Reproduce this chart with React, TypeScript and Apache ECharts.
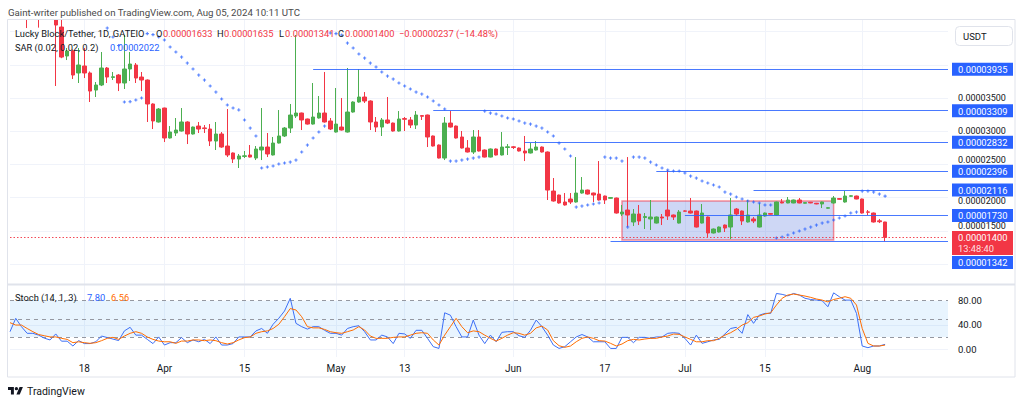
import React, { useEffect, useRef } from 'react';
import * as echarts from 'echarts';

const FONT = 'Roboto, "Liberation Sans", sans-serif';
const UP = '#4caf50';
const DOWN = '#f23645';
const BLUE = '#2962ff';
const ORANGE = '#ff6d00';
const TEXT = '#131722';

// daily categories, 2024-03-05 .. 2024-08-16
const START = Date.UTC(2024, 2, 5);
const DAY_COUNT = 165;
const CATEGORIES: string[] = Array.from({ length: DAY_COUNT }, (_, i) =>
  new Date(START + i * 86400000).toISOString().slice(0, 10)
);

const TICK_LABELS: Record<string, string> = {
  '2024-03-18': '18',
  '2024-04-01': 'Apr',
  '2024-04-15': '15',
  '2024-05-01': 'May',
  '2024-05-13': '13',
  '2024-06-01': 'Jun',
  '2024-06-17': '17',
  '2024-07-01': 'Jul',
  '2024-07-15': '15',
  '2024-08-01': 'Aug',
};

// prices in units of 1e-8 USDT; [open, close, low, high], 2024-03-05 .. 2024-08-05
const CANDLES: number[][] = [
  [4960, 4900, 4850, 5050], [4900, 4940, 4820, 5000], [4940, 4850, 4760, 4980], [4850, 4770, 4554, 4900], [4770, 4800, 4700, 4860],
  [4800, 4720, 4560, 4850], [4720, 4780, 4690, 4830], [4780, 4740, 4700, 4800], [4740, 4599, 3681, 4760], [4569, 4117, 4100, 4700],
  [4133, 4208, 4072, 4253], [4208, 3846, 3786, 4230], [3877, 3997, 3726, 4253], [3982, 3877, 3801, 4253], [3877, 3605, 3440, 3900],
  [3620, 3696, 3515, 3741], [3696, 3952, 3680, 4193], [3952, 3816, 3726, 3967], [3810, 3820, 3771, 3892], [3846, 3726, 3605, 3860],
  [3726, 3937, 3636, 4449], [3937, 4012, 3756, 4193], [3997, 3801, 3726, 4027], [3816, 3771, 3605, 3892], [3771, 3410, 3139, 3780],
  [3410, 3154, 3033, 3420], [3139, 3334, 3130, 3349], [3349, 2898, 2837, 3355], [2898, 2988, 2890, 3078], [2973, 3018, 2928, 3199],
  [3003, 3139, 2995, 3349], [3139, 2958, 2807, 3150], [2958, 3063, 2950, 3070], [3078, 3033, 2973, 3139], [3050, 3040, 2973, 3093],
  [3033, 2852, 2777, 3108], [2852, 2958, 2717, 3139], [2958, 2762, 2750, 2988], [2777, 2642, 2611, 3334], [2672, 2581, 2521, 2680],
  [2581, 2627, 2446, 2657], [2620, 2630, 2596, 2702], [2642, 2611, 2605, 2792], [2596, 2732, 2566, 2777], [2717, 2762, 2566, 3349],
  [2762, 2657, 2611, 2973], [2642, 2822, 2635, 2913], [2822, 2928, 2815, 3319], [2928, 3048, 2913, 3063], [3048, 3244, 2973, 3410],
  [3229, 3274, 3199, 4449], [3274, 3169, 3018, 3280], [3184, 3108, 3100, 3190], [3108, 3214, 3100, 3726], [3199, 3274, 3190, 3530],
  [3274, 3139, 3130, 3892], [3154, 3033, 3018, 3199], [2988, 3108, 2980, 3651], [3063, 3018, 3010, 3500], [2988, 3289, 2980, 3952],
  [3289, 3440, 3280, 3450], [3440, 3515, 3430, 3937], [3515, 3455, 3425, 3590], [3455, 3139, 3018, 3465], [3139, 3063, 2988, 3214],
  [3063, 3169, 2928, 3199], [3169, 3123, 3108, 3515], [3123, 3003, 2995, 3130], [3003, 3184, 2995, 3304], [3190, 3180, 3003, 3214],
  [3169, 3093, 3048, 3214], [3093, 3244, 3033, 3304], [3235, 3225, 3169, 3244], [3244, 2913, 2762, 3250], [2928, 2777, 2770, 2935],
  [2792, 2596, 2590, 2800], [2596, 3123, 2566, 3214], [3123, 3063, 3055, 3304], [3078, 2898, 2890, 3085], [2913, 2747, 2740, 3003],
  [2747, 2687, 2680, 2867], [2687, 2913, 2657, 3018], [2913, 2702, 2695, 3018], [2717, 2611, 2605, 2725], [2611, 2732, 2605, 2740],
  [2732, 2642, 2635, 2740], [2642, 2762, 2635, 2988], [2755, 2765, 2642, 2807], [2765, 2755, 2732, 2777], [2747, 2702, 2695, 2755],
  [2702, 2672, 2551, 2928], [2672, 2732, 2665, 2822], [2717, 2762, 2710, 2852], [2762, 2687, 2680, 2770], [2687, 2114, 1964, 2695],
  [2099, 1949, 1940, 2295], [2039, 1919, 1910, 2045], [1934, 1889, 1880, 2069], [1979, 1934, 1904, 2069], [1934, 2069, 1925, 2611],
  [2069, 2114, 2060, 2310], [2114, 2054, 2045, 2120], [2069, 2039, 1934, 2075], [2054, 1964, 1955, 2551], [2024, 1964, 1904, 2030],
  [1990, 2000, 1985, 2005], [1994, 1768, 1760, 2000], [1753, 1783, 1723, 1889], [1813, 1738, 1557, 2611], [1633, 1753, 1572, 1828],
  [1753, 1648, 1587, 1889], [1700, 1715, 1527, 1768], [1678, 1708, 1512, 1964], [1617, 1708, 1610, 1715], [1708, 1693, 1587, 1753],
  [1813, 1723, 1663, 2416], [1738, 1708, 1663, 1745], [1617, 1783, 1610, 1813], [1800, 1795, 1790, 1810], [1798, 1768, 1760, 1994],
  [1798, 1557, 1550, 1805], [1617, 1768, 1610, 1904], [1708, 1467, 1407, 1715], [1467, 1527, 1460, 1535], [1482, 1557, 1475, 1565],
  [1587, 1542, 1482, 1595], [1557, 1738, 1376, 1994], [1828, 1753, 1723, 1843], [1798, 1648, 1587, 1805], [1633, 1738, 1625, 1964],
  [1678, 1648, 1617, 1708], [1557, 1738, 1550, 1919], [1723, 1768, 1715, 1775], [1760, 1750, 1745, 1765], [1738, 1934, 1730, 1940],
  [1934, 1919, 1915, 1979], [1919, 1964, 1915, 2009], [1919, 1964, 1915, 1970], [1964, 1919, 1915, 1994], [1915, 1925, 1910, 1930],
  [1930, 1920, 1915, 1935], [1915, 1905, 1900, 1920], [1904, 1934, 1843, 1940], [1840, 1848, 1835, 1855], [1919, 1994, 1910, 2024],
  [1985, 1975, 1970, 1990], [1934, 2024, 1925, 2099], [2020, 2028, 2015, 2035], [2024, 1979, 1975, 2030], [1979, 1768, 1760, 1985],
  [1785, 1780, 1738, 1813], [1768, 1633, 1625, 1775], [1650, 1637, 1617, 1678], [1633, 1400, 1341, 1635],
];

// Parabolic SAR (0.02, 0.02, 0.2), same units
const SAR: (number | null)[] = [
  null, null, null, null, null, null, null, null, null, null,
  null, null, null, null, null, null, null, 4554, 4419, 4290,
  3440, 3445, 3470, 3500, 4470, 4455, 4419, 4374, 4268, 4193,
  4117, 4027, 3937, 3846, 3771, 3681, 3590, 3485, 3395, 3350,
  3320, 3169, 3048, 2928, 2446, 2461, 2476, 2506, 2521, 2536,
  2566, 2687, 2792, 2898, 2988, 3078, 4479, 4470, 4449, 4328,
  4253, 4163, 4102, 4027, 3967, 3892, 3831, 3786, 3726, 3681,
  3636, 3590, 3560, 3515, 3455, 3395, 3334, 2551, 2551, 2566,
  2581, 2596, 2611, 3304, 3274, 3259, 3229, 3199, 3184, 3154,
  3123, 3108, 3078, 3048, 2988, 2928, 2822, 2732, 2627, 1858,
  1873, 1889, 1904, 1919, 2611, 2596, 2596, 2551, 1557, 2611,
  2611, 2596, 2536, 2491, 2446, 2416, 2401, 2401, 2371, 2325,
  2295, 2250, 2220, 2190, 2160, 2084, 2054, 2009, 1979, 1949,
  1934, 1919, 1889, 1889, 1392, 1407, 1437, 1467, 1497, 1527,
  1557, 1587, 1617, 1633, 1663, 1693, 1723, 1768, 1783, 2099,
  2099, 2084, 2054, 2022,
];

const STOCH_K: number[] = [
  28.7, 50.8, 37, 26, 26, 23, 18, 15, 25, 13,
  13, 5, 14, 9, 9, 12, 21.5, 19, 16.5, 14,
  30, 36, 23, 23, 16, 9, 20, 6.6, 10.5, 10.5,
  19, 10.5, 15, 12, 16, 9, 20, 6.6, 6.6, 9,
  20, 20, 20, 30, 34, 26, 41, 51, 63, 84,
  42.5, 37, 33, 37, 37, 31, 26, 26, 23, 34,
  37, 38.6, 28.7, 15, 15, 23, 20, 9, 26, 25,
  17.7, 31, 31, 17.7, 3.9, 1, 60, 56, 37, 20,
  20, 48, 23, 9, 23, 12, 27.6, 28.7, 28.7, 22,
  19.3, 31, 48, 37, 23, 6.6, 1, 3.9, 12, 20,
  24, 20, 12, 12, 12, 1, 1, 19.3, 19.3, 10.5,
  19.3, 19.3, 17.7, 20, 20, 26, 27, 26, 17.7, 6.6,
  23, 9.4, 12, 15, 16, 25, 34, 36, 26, 57,
  42.5, 56, 59, 59, 92, 90.5, 88, 92, 89.4, 84,
  82, 81, 80, 70, 93, 86.6, 81, 81, 59, 5,
  2.2, 5, 5, 7.8,
];

const STOCH_D: number[] = [
  43.6, 39.7, 39.7, 34, 28.7, 24, 22, 20, 20, 17.7,
  16, 10.5, 12, 10.5, 9.4, 10.5, 13.8, 17.7, 19.3, 16,
  21.5, 26, 28.7, 26, 20, 16, 13.2, 12, 12, 9.4,
  13.2, 13.2, 15, 15, 13.8, 15, 13.8, 10.5, 8.3, 10.5,
  15, 18.8, 20, 26, 28.7, 30, 34, 41, 53.5, 67,
  64.6, 53.5, 37, 35, 35, 32.5, 28.7, 27, 26, 28.7,
  31.5, 37, 31.5, 21.5, 17.7, 17.7, 17.7, 19.3, 20, 20,
  23, 26, 27, 26, 15, 6.6, 23, 37, 50.8, 37,
  27, 30, 28.7, 23, 17.7, 13.2, 17.7, 23, 27, 26,
  23, 26, 35, 38, 31.5, 13.8, 5.5, 2.8, 5, 12,
  17.7, 20, 17.7, 13.8, 13.2, 9.4, 5, 8.3, 13.8, 16,
  15, 16.6, 17.7, 17.7, 20, 21.5, 24.8, 24.3, 20, 16,
  12, 12, 13.8, 13.8, 17.7, 23, 27, 32.6, 39.7, 43.6,
  52.4, 54.6, 58, 60, 72.8, 84, 89.4, 91, 89.4, 87.7,
  85.5, 82.8, 81, 78, 82, 84, 86.6, 84, 72.8, 34,
  9.4, 5, 5, 6.56,
];

// horizontal levels drawn on the chart
const LEVEL_PRICES: number[] = [3935, 3309, 2832, 2396, 2116, 1730, 1342];
const LEVEL_STARTS: string[] = ['2024-04-27', '2024-05-18', '2024-06-03', '2024-06-26', '2024-07-13', '2024-07-01', '2024-06-18'];
// range rectangle
const BOX_DATES: string[] = ['2024-06-20', '2024-07-27'];
const BOX_PRICES: number[] = [1949, 1361];

const PRICE_GRID: number[] = [1000, 1500, 2000, 2500, 3000, 3500, 4000, 4500];
const PRICE_TICKS: number[] = [1500, 2000, 2500, 3000, 3500];
const STOCH_TICKS: number[] = [0, 40, 80];
const STOCH_BANDS: number[] = [80, 50, 20];
const COUNTDOWN = '13:48:40';

const fmt = (v: number) => (v / 1e8).toFixed(8);
const isTick = (_i: number, v: string) => TICK_LABELS[v] !== undefined;

const TV_LOGO = 'M14 22H7V11H0V4h14v18zM28 22h-8l7.5-18h8L28 22zM24 8a4 4 0 1 1-8 0a4 4 0 1 1 8 0z';
let logoRegistered = false;

export default function App() {
  const ref = useRef<HTMLDivElement>(null);
  useEffect(() => {
    if (!ref.current) return;
    if (!logoRegistered) {
      echarts.graphic.registerShape('tvlogo', (echarts.graphic as any).extendPath(TV_LOGO, {}));
      logoRegistered = true;
    }
    const chart = echarts.init(ref.current, undefined, { renderer: 'svg' });
    const lastCat = CATEGORIES[CATEGORIES.length - 1];
    const last = CANDLES[CANDLES.length - 1];
    const prev = CANDLES[CANDLES.length - 2];
    const change = last[1] - prev[1];
    const pct = (change / prev[1]) * 100;

    const option: any = {
      animation: false,
      backgroundColor: '#ffffff',
      textStyle: { fontFamily: FONT },
      grid: [
        { left: 10, right: 76, top: 20, height: 265 },
        { left: 10, right: 76, top: 285, height: 72 },
      ],
      xAxis: [
        {
          type: 'category', gridIndex: 0, data: CATEGORIES, boundaryGap: false,
          axisLine: { show: false }, axisTick: { show: false }, axisLabel: { show: false },
          splitLine: { show: true, interval: isTick, lineStyle: { color: '#f0f3fa', width: 1 } },
        },
        {
          type: 'category', gridIndex: 1, data: CATEGORIES, boundaryGap: false,
          axisLine: { show: false }, axisTick: { show: false },
          axisLabel: {
            show: true, interval: isTick, formatter: (v: string) => TICK_LABELS[v] || '',
            color: TEXT, fontSize: 10, margin: 6, fontFamily: FONT,
          },
          splitLine: { show: true, interval: isTick, lineStyle: { color: '#f0f3fa', width: 1 } },
        },
      ],
      yAxis: [
        {
          type: 'value', gridIndex: 0, position: 'right', min: 684, max: 4675,
          axisLine: { show: false },
          axisTick: { show: false, customValues: PRICE_GRID },
          axisLabel: { show: false },
          splitLine: { show: true, lineStyle: { color: '#f0f3fa', width: 1 } },
        },
        {
          type: 'value', gridIndex: 1, position: 'right', min: -13.2, max: 106,
          axisLine: { show: false },
          axisTick: { show: false, customValues: [0, 40] },
          axisLabel: {
            customValues: STOCH_TICKS,
            formatter: (v: number) => (STOCH_TICKS.indexOf(v) >= 0 ? v.toFixed(2) : ''),
            margin: 10, color: TEXT, fontSize: 9.5, fontFamily: FONT,
          },
          splitLine: { show: true, lineStyle: { color: '#f0f3fa', width: 1 } },
        },
      ],
      series: [
        {
          type: 'candlestick', name: 'Lucky Block/Tether', xAxisIndex: 0, yAxisIndex: 0,
          data: CANDLES, barWidth: 4, clip: true, z: 3,
          itemStyle: { color: UP, color0: DOWN, borderColor: UP, borderColor0: DOWN, borderWidth: 1 },
          markArea: {
            silent: true,
            itemStyle: { color: 'rgba(80,110,220,0.28)', borderColor: 'rgba(242,54,69,0.55)', borderWidth: 1.5 },
            data: [[{ coord: [BOX_DATES[0], BOX_PRICES[0]] }, { coord: [BOX_DATES[1], BOX_PRICES[1]] }]],
          },
          markLine: {
            silent: true, symbol: ['none', 'none'], label: { show: false },
            lineStyle: { color: BLUE, width: 1.2, type: 'solid', opacity: 0.85 },
            data: LEVEL_PRICES.map((p, k) => [
              { coord: [LEVEL_STARTS[k], p] },
              { coord: [lastCat, p] },
            ]),
          },
        },
        {
          type: 'scatter', name: 'SAR', xAxisIndex: 0, yAxisIndex: 0, z: 4, clip: true,
          data: SAR.map((v, i) => (v == null ? null : [CATEGORIES[i], v])).filter(Boolean),
          symbol: 'path://M2,0H4V2H6V4H4V6H2V4H0V2H2Z', symbolSize: 3.2,
          itemStyle: { color: BLUE },
        },
        {
          type: 'line', name: '%K', xAxisIndex: 1, yAxisIndex: 1, data: STOCH_K, z: 3,
          symbol: 'none', showSymbol: false, lineStyle: { color: '#3d6ff5', width: 1 }, itemStyle: { color: BLUE },
        },
        {
          type: 'line', name: '%D', xAxisIndex: 1, yAxisIndex: 1, data: STOCH_D, z: 3,
          symbol: 'none', showSymbol: false, lineStyle: { color: ORANGE, width: 1 }, itemStyle: { color: ORANGE },
          markArea: {
            silent: true, itemStyle: { color: 'rgba(33,150,243,0.1)' },
            data: [[{ yAxis: STOCH_BANDS[2] }, { yAxis: STOCH_BANDS[0] }]],
          },
          markLine: {
            silent: true, symbol: ['none', 'none'], label: { show: false }, z: 2,
            lineStyle: { color: '#9598a1', width: 1, type: [4, 4] },
            data: STOCH_BANDS.map((b) => ({ yAxis: b })),
          },
        },
      ],
    };
    chart.setOption(option);

    const py = (v: number) => chart.convertToPixel({ yAxisIndex: 0 } as any, v) as number;
    const px = (c: string) => chart.convertToPixel({ xAxisIndex: 0 } as any, c) as number;
    const g: any[] = [];
    const txt = (x: number, y: number, text: string, fill: string, size = 9.3, extra: any = {}) => ({
      type: 'text', x, y, z: 102,
      style: { text, fill, fontSize: size, fontFamily: FONT, verticalAlign: 'middle', align: 'left', ...extra },
    });
    // current price line (dotted, red)
    const curY = py(last[1]);
    const lineY = Math.round(curY) + 0.5;
    g.push({
      type: 'line', z: 50, silent: true,
      shape: { x1: px(CATEGORIES[0]), y1: lineY, x2: px(lastCat), y2: lineY },
      style: { stroke: DOWN, lineWidth: 1, lineDash: [1.5, 2], opacity: 0.9 },
    });
    // mask above the price pane (candles beyond the top of the scale)
    g.push({ type: 'rect', z: 95, shape: { x: 0, y: 0, width: 1024, height: 19 }, style: { fill: '#ffffff' } });
    // frame
    g.push({ type: 'rect', z: 96, shape: { x: 7.5, y: 19.5, width: 1007.5, height: 357.5 }, style: { fill: 'none', stroke: '#e0e3eb', lineWidth: 1 } });
    g.push({ type: 'line', z: 96, shape: { x1: 8, y1: 284.5, x2: 1015, y2: 284.5 }, style: { stroke: '#e0e3eb', lineWidth: 2 } });
    // header
    g.push(txt(8, 12.5, 'Gaint-writer published on TradingView.com, Aug 05, 2024 10:11 UTC', '#4a4a4a', 9.7));
    // legend
    g.push(txt(15, 33, 'Lucky Block/Tether, 1D, GATEIO', TEXT));
    g.push(txt(156, 33, 'O', TEXT));
    g.push(txt(163, 33, fmt(last[0]), DOWN));
    g.push(txt(217, 33, 'H', TEXT));
    g.push(txt(224, 33, fmt(last[3]), DOWN));
    g.push(txt(279, 33, 'L', TEXT));
    g.push(txt(285, 33, fmt(last[2]), DOWN));
    g.push(txt(338, 33, 'C', TEXT));
    g.push(txt(345, 33, fmt(last[1]), DOWN));
    g.push(txt(399, 33, `\u2212${fmt(Math.abs(change))} (\u2212${Math.abs(pct).toFixed(2)}%)`, DOWN));
    g.push(txt(15, 47, 'SAR (0.02, 0.02, 0.2)', TEXT));
    g.push(txt(110, 47, fmt(SAR[SAR.length - 1] as number), BLUE));
    // stoch legend
    g.push(txt(15, 297, 'Stoch (14, 1, 3)', TEXT));
    g.push(txt(87, 297, STOCH_K[STOCH_K.length - 1].toFixed(2), BLUE));
    g.push(txt(111, 297, STOCH_D[STOCH_D.length - 1].toFixed(2), ORANGE));
    // USDT box
    g.push({ type: 'rect', z: 100, shape: { x: 955.5, y: 26.5, width: 57, height: 19, r: 4 }, style: { fill: '#ffffff', stroke: '#e0e3eb', lineWidth: 1 } });
    g.push(txt(963, 36, 'USDT', TEXT, 9.5));
    // price scale labels, nudged off the label boxes that cover them
    const redTop = curY - 6.5;
    const redBottom = redTop + 24;
    const boxes: { top: number; p: number }[] = LEVEL_PRICES.map((p) => {
      let top = py(p) - 6.5;
      if (top < redBottom + 1 && top + 13 > redTop) top = redBottom + 1;
      return { top, p };
    });
    const occupied = [...boxes.map((b) => [b.top, b.top + 13]), [redTop, redBottom]];
    PRICE_TICKS.forEach((v) => {
      let y = py(v);
      for (const [a, b] of occupied) {
        if (y + 5.5 > a && y - 5.5 < b) {
          y = y < (a + b) / 2 ? a - 5 : b + 5;
        }
      }
      g.push(txt(958, y, fmt(v), TEXT, 9, { z: 99 }));
    });
    boxes.forEach(({ top, p }) => {
      g.push({ type: 'rect', z: 101, shape: { x: 952, y: top, width: 61, height: 13 }, style: { fill: BLUE } });
      g.push(txt(958, top + 6.8, fmt(p), '#ffffff', 9.3));
    });
    g.push({ type: 'rect', z: 101, shape: { x: 952, y: redTop, width: 61, height: 24 }, style: { fill: DOWN } });
    g.push(txt(958, redTop + 6.5, fmt(last[1]), '#ffffff', 9.3));
    g.push(txt(958, redTop + 17.8, COUNTDOWN, 'rgba(255,255,255,0.85)', 9.3));
    // TradingView logo
    g.push({ type: 'tvlogo', z: 100, x: 8, y: 385.3, scaleX: 0.42, scaleY: 0.42, style: { fill: TEXT } });
    g.push(txt(27, 391, 'TradingView', TEXT, 10.5));
    chart.setOption({ graphic: g });

    return () => chart.dispose();
  }, []);
  return <div ref={ref} style={{ width: 1024, height: 406, position: 'absolute', left: 0, top: 0 }} />;
}
